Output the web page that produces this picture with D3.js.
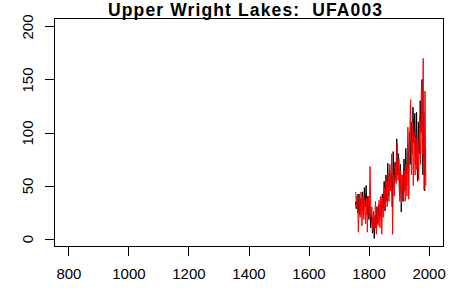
<!DOCTYPE html>
<html>
<head>
<meta charset="utf-8">
<script src="https://cdn.jsdelivr.net/npm/d3@7.9.0/dist/d3.min.js"></script>
<style>
  body { margin: 0; background: #fff; }
  svg { display: block; }
  text { font-family: Arial, "Liberation Sans", sans-serif; }
</style>
</head>
<body>
<svg id="chart" width="461" height="301"></svg>
<script>
const title = 'Upper Wright Lakes:  UFA003';
const xTicks = [800, 1000, 1200, 1400, 1600, 1800, 2000];
const yTicks = [0, 50, 100, 150, 200];

// black series, every 3 years from 1756
const blackYears = d3.range(1756, 1991, 3);
const blackValues = [
  35, 28, 40, 24, 42, 22, 38, 30, 44, 26,
  48, 30, 50, 22, 40, 18, 35, 10, 25, 5,
  20, 0, 22, 10, 30, 14, 32, 18, 38, 20,
  42, 28, 54, 26, 60, 35, 71, 40, 65, 45,
  62, 30, 82, 50, 72, 55, 94, 60, 80, 40,
  70, 25, 60, 35, 75, 45, 85, 50, 90, 60,
  100, 70, 110, 80, 124, 90, 118, 70, 119, 54,
  110, 80, 130, 100, 150, 60, 120, 45, 85
];

// red series, every 3 years from 1757
const redYears = d3.range(1757, 1992, 3);
const redValues = [
  44, 30, 42, 6, 38, 20, 44, 12, 40, 18,
  36, 14, 38, 6, 40, 24, 68, 20, 30, 8,
  26, 10, 35, 4, 30, 12, 36, 10, 40, 4,
  38, 20, 48, 28, 55, 30, 62, 35, 70, 45,
  80, 4, 60, 40, 70, 52, 90, 55, 75, 35,
  64, 33, 60, 38, 64, 35, 70, 40, 105, 37,
  95, 131, 60, 110, 50, 100, 60, 95, 65, 90,
  55, 115, 70, 140, 80, 170, 46, 139, 50
];

const svg = d3.select('#chart');
const x = d3.scaleLinear().domain([752, 2048]).range([54, 443]);
const y = d3.scaleLinear().domain([-8, 208]).range([247, 18]);

const line = d3.line().x((d) => x(d[0])).y((d) => y(d[1]));

svg.append('path')
   .datum(blackYears.map((yr, i) => [yr, blackValues[i]]))
   .attr('d', line)
   .attr('fill', 'none')
   .attr('stroke', '#000')
   .attr('stroke-width', 1);

svg.append('path')
   .datum(redYears.map((yr, i) => [yr, redValues[i]]))
   .attr('d', line)
   .attr('fill', 'none')
   .attr('stroke', '#ff0000')
   .attr('stroke-width', 1);

// box
svg.append('rect')
   .attr('x', 54.5).attr('y', 18.5)
   .attr('width', 389).attr('height', 228)
   .attr('fill', 'none')
   .attr('stroke', '#000')
   .attr('shape-rendering', 'crispEdges');

// x axis
const xAxis = svg.append('g')
   .attr('transform', 'translate(0,247)')
   .call(d3.axisBottom(x).tickValues(xTicks).tickFormat(d3.format('d'))
           .tickSize(9).tickSizeOuter(0).tickPadding(12));
xAxis.select('.domain').remove();
xAxis.selectAll('line').attr('shape-rendering', 'crispEdges');
xAxis.selectAll('text')
   .attr('font-size', 15)
   .attr('fill', '#000')
   .style('font-family', 'Arial, "Liberation Sans", sans-serif');

// y axis
const yAxis = svg.append('g')
   .attr('transform', 'translate(54,0)')
   .call(d3.axisLeft(y).tickValues(yTicks).tickFormat(d3.format('d'))
           .tickSize(9).tickSizeOuter(0));
yAxis.select('.domain').remove();
yAxis.selectAll('line').attr('shape-rendering', 'crispEdges');
yAxis.selectAll('text')
   .attr('x', null).attr('dy', null)
   .attr('text-anchor', 'middle')
   .attr('transform', 'translate(-21,0) rotate(-90)')
   .attr('font-size', 15)
   .attr('fill', '#000')
   .style('font-family', 'Arial, "Liberation Sans", sans-serif');

svg.append('text')
   .attr('x', 245).attr('y', 15.5)
   .attr('text-anchor', 'middle')
   .attr('font-size', 17.5)
   .attr('font-weight', 'bold')
   .attr('textLength', 274)
   .attr('lengthAdjust', 'spacing')
   .style('white-space', 'pre')
   .text(title);
</script>
</body>
</html>
